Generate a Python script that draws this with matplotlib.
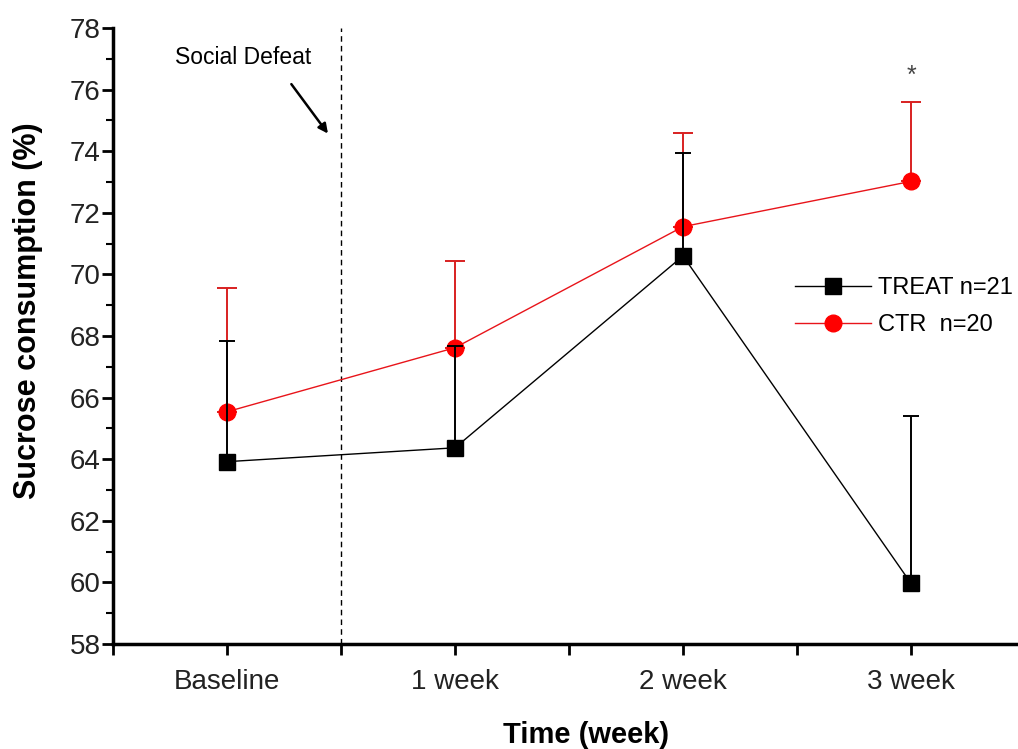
import matplotlib
matplotlib.use("Agg")
import matplotlib.pyplot as plt
from matplotlib.ticker import MultipleLocator
from matplotlib.lines import Line2D

# Data
timepoints = ["Baseline", "1 week", "2 week", "3 week"]
x_pos = [1, 3, 5, 7]
treat_mean = [63.92, 64.37, 70.60, 59.97]
treat_err = [3.93, 3.30, 3.35, 5.43]
ctr_mean = [65.54, 67.62, 71.55, 73.02]
ctr_err = [4.03, 2.81, 3.05, 2.58]
treat_label = "TREAT n=21"
ctr_label = "CTR  n=20"

regular = ["Liberation Sans", "DejaVu Sans"]

fig = plt.figure(figsize=(10.18, 7.49), dpi=100)
ax = fig.add_axes([113/1018, 1-644/749, 1-113/1018, (644-28)/749])

ax.errorbar(x_pos, treat_mean, yerr=[[0]*4, treat_err], color="black", lw=1.0,
            marker="s", ms=11.5, mfc="black", mec="black", elinewidth=1.4,
            capsize=6, capthick=1.4, label=treat_label, zorder=3)
ax.errorbar(x_pos, ctr_mean, yerr=[[0]*4, ctr_err], color="#e8141a", lw=1.0,
            marker="o", ms=12, mfc="#ff0000", mec="#ff0000", elinewidth=1.4,
            capsize=7, capthick=1.4, ecolor="#d82020", label=ctr_label, zorder=2)

ax.axvline(2, color="black", ls=(0, (4, 3)), lw=1.0)

ax.text(1.14, 77.05, "Social Defeat", ha="center", va="center", fontsize=16.5,
        family=regular)
ax.annotate("", xy=(1.9, 74.5), xytext=(1.55, 76.25),
            arrowprops=dict(arrowstyle="-|>", color="black", lw=1.8,
                            mutation_scale=14))
ax.text(7, 76.45, "*", ha="center", va="center", fontsize=18, color="#444444",
        family=regular)

ax.set_xlim(0, 905/114)
ax.set_ylim(58, 78)
ax.set_xticks(x_pos)
ax.set_xticklabels(timepoints, fontsize=20, family=regular, color="#222222")
ax.xaxis.set_minor_locator(MultipleLocator(1))
ax.yaxis.set_major_locator(MultipleLocator(2))
ax.yaxis.set_minor_locator(MultipleLocator(1))
for lab in ax.get_yticklabels():
    lab.set_fontsize(20)
    lab.set_family(regular)
    lab.set_color("#222222")

ax.tick_params(axis="both", which="major", direction="out", length=8, width=2)
ax.tick_params(axis="x", which="minor", direction="out", length=8, width=2)
ax.tick_params(axis="y", which="minor", direction="out", length=5, width=1.5)
ax.tick_params(axis="x", which="major", pad=10)
ax.tick_params(axis="y", which="major", pad=1)

for s in ["top", "right"]:
    ax.spines[s].set_visible(False)
for s in ["left", "bottom"]:
    ax.spines[s].set_linewidth(2.5)

ax.set_xlabel("Time (week)", fontsize=21, fontweight="bold", family=regular)
ax.xaxis.set_label_coords((586-113)/905, -(735-644)/616)
ax.xaxis.label.set_va("center")
ax.set_ylabel("Sucrose consumption (%)", fontsize=22, fontweight="bold",
              family=regular)
ax.yaxis.set_label_coords(-(113-28)/905, (644-311)/616)
ax.yaxis.label.set_va("center")

labels = [treat_label, ctr_label]
hl = [Line2D([], [], color="black", lw=1.0, marker="s", ms=11.5),
      Line2D([], [], color="#e8141a", lw=1.0, marker="o", ms=12,
             mfc="#ff0000", mec="#ff0000")]
ax.legend(hl, labels, loc="upper left", bbox_to_anchor=(795/1018, 1-277/749),
          bbox_transform=fig.transFigure, frameon=False,
          prop={"family": regular, "size": 17}, handlelength=3.2,
          handletextpad=0.3, labelspacing=0.65, borderpad=0, borderaxespad=0)

fig.savefig("out.png", dpi=100)
